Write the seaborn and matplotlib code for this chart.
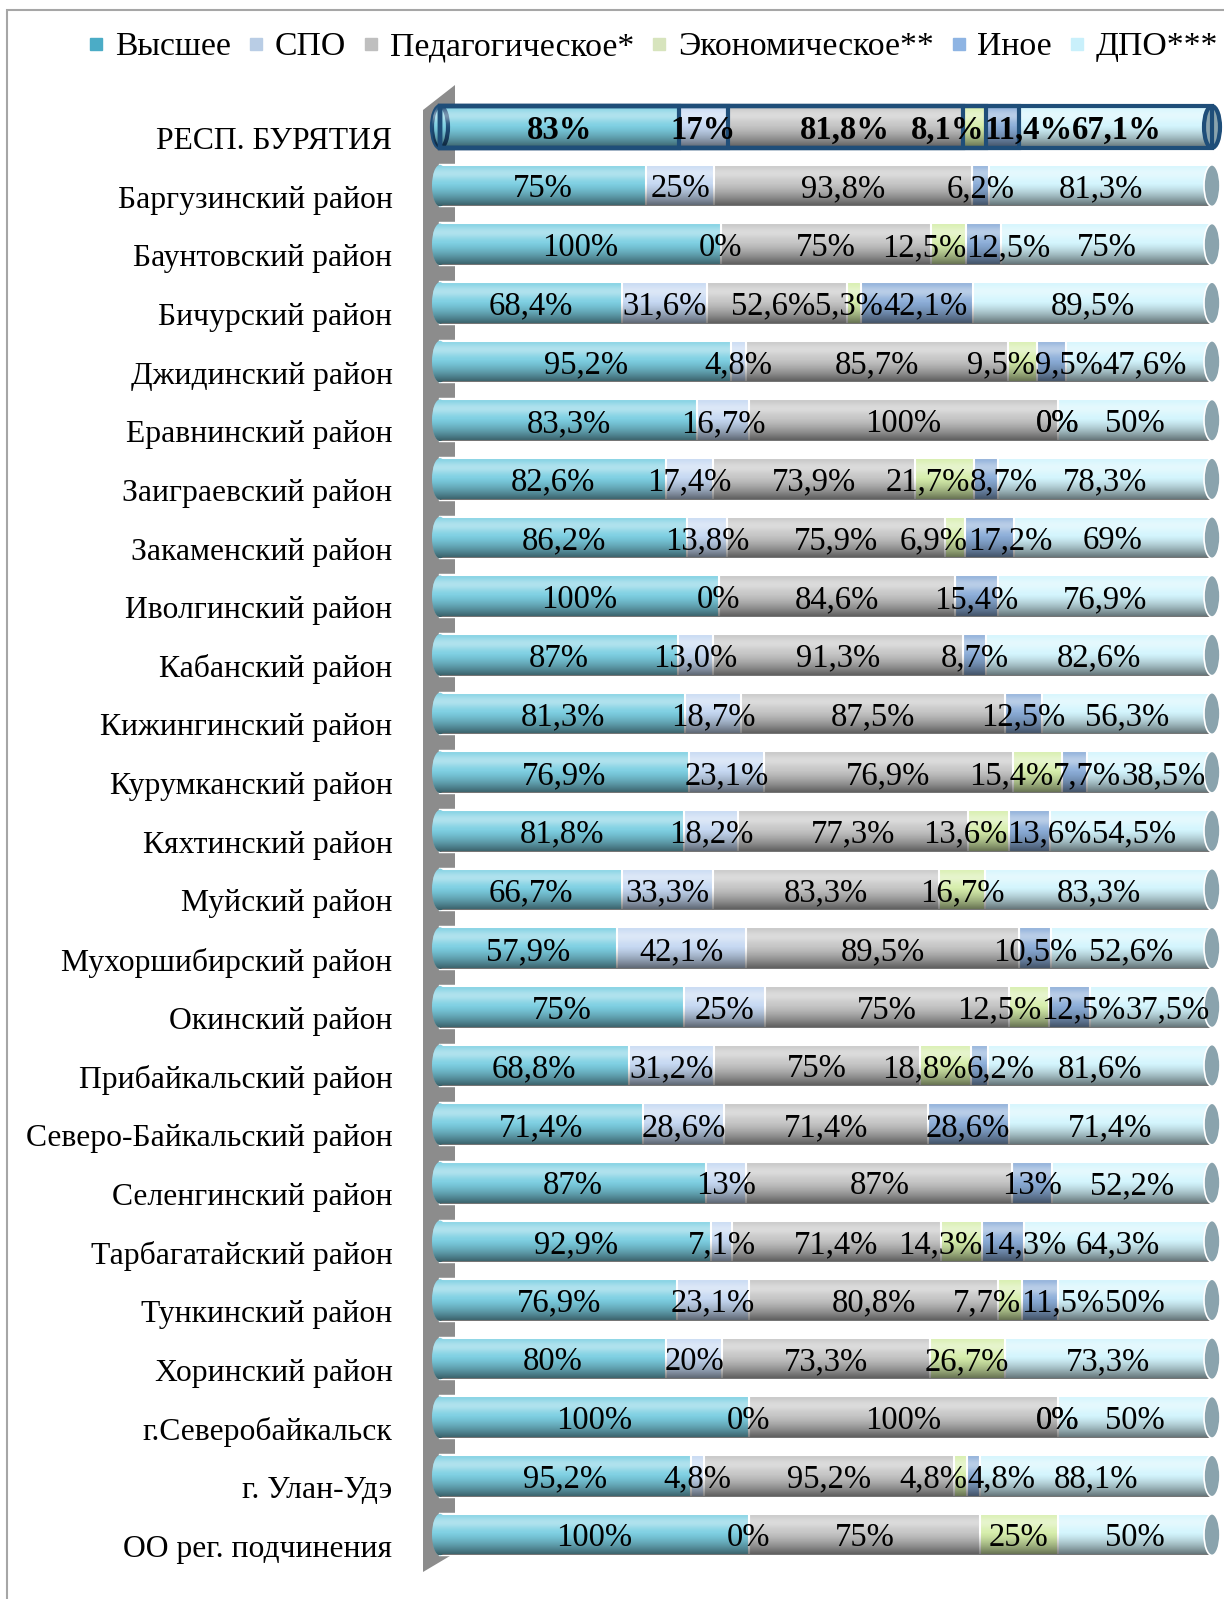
import matplotlib
matplotlib.use("Agg")
import matplotlib.pyplot as plt
import matplotlib.transforms as mtransforms
from matplotlib.patches import Ellipse, Polygon, Rectangle
from matplotlib.lines import Line2D
import numpy as np
import pandas as pd
import seaborn as sns

# данные
regions = ["РЕСП. БУРЯТИЯ", "Баргузинский район", "Баунтовский район", "Бичурский район",
           "Джидинский район", "Еравнинский район", "Заиграевский район", "Закаменский район",
           "Иволгинский район", "Кабанский район", "Кижингинский район", "Курумканский район",
           "Кяхтинский район", "Муйский район", "Мухоршибирский район", "Окинский район",
           "Прибайкальский район", "Северо-Байкальский район", "Селенгинский район",
           "Тарбагатайский район", "Тункинский район", "Хоринский район", "г.Северобайкальск",
           "г. Улан-Удэ", "ОО рег. подчинения"]
categories = ["Высшее", "СПО", "Педагогическое*", "Экономическое**", "Иное", "ДПО***"]

vysshee = [83, 75, 100, 68.4, 95.2, 83.3, 82.6, 86.2, 100, 87, 81.3, 76.9, 81.8, 66.7, 57.9,
           75, 68.8, 71.4, 87, 92.9, 76.9, 80, 100, 95.2, 100]
spo = [17, 25, 0, 31.6, 4.8, 16.7, 17.4, 13.8, 0, 13.0, 18.7, 23.1, 18.2, 33.3, 42.1,
       25, 31.2, 28.6, 13, 7.1, 23.1, 20, 0, 4.8, 0]
pedag = [81.8, 93.8, 75, 52.6, 85.7, 100, 73.9, 75.9, 84.6, 91.3, 87.5, 76.9, 77.3, 83.3, 89.5,
         75, 75, 71.4, 87, 71.4, 80.8, 73.3, 100, 95.2, 75]
econ = [8.1, None, 12.5, 5.3, 9.5, 0, 21.7, 6.9, None, None, None, 15.4, 13.6, 16.7, None,
        12.5, 18.8, None, None, 14.3, 7.7, 26.7, 0, 4.8, 25]
inoe = [11.4, 6.2, 12.5, 42.1, 9.5, 0, 8.7, 17.2, 15.4, 8.7, 12.5, 7.7, 13.6, None, 10.5,
        12.5, 6.2, 28.6, 13, 14.3, 11.5, None, 0, 4.8, None]
dpo = [67.1, 81.3, 75, 89.5, 47.6, 50, 78.3, 69, 76.9, 82.6, 56.3, 38.5, 54.5, 83.3, 52.6,
       37.5, 81.6, 71.4, 52.2, 64.3, 50, 73.3, 50, 88.1, 50]
series = [vysshee, spo, pedag, econ, inoe, dpo]
label_override = {("Кабанский район", "СПО"): "13,0%"}

bar_colors = ["#7ccfe2", "#c5d8f2", "#c4c4c4", "#d6eeab", "#8badd8", "#d3f5fd"]
legend_colors = ["#4bacc6", "#b9cde5", "#bfbfbf", "#d7e4bd", "#8eb4e3", "#c9f0fb"]

rows = []
for cat, vals in zip(categories, series):
    for reg, v in zip(regions, vals):
        rows.append({"region": reg, "category": cat, "value": v})
df = pd.DataFrame(rows)
df["value"] = df["value"].astype(float)
df["category"] = pd.Categorical(df["category"], categories, ordered=True)
df["region"] = pd.Categorical(df["region"], regions, ordered=True)
df = df.sort_values(["region", "category"])
tot = df.groupby("region", observed=True)["value"].transform(lambda s: s.fillna(0).sum())
df["share"] = df["value"].fillna(0) / tot
df["cum"] = df.groupby("region", observed=True)["share"].cumsum()

plt.rcParams["font.family"] = ["Liberation Serif", "DejaVu Serif"]

W, H = 1224, 1599
fig = plt.figure(figsize=(W / 100, H / 100), dpi=100)
# пиксельная разметка области графика
ax_l, ax_r, ax_t, ax_b = 423, 1224, 80, 1580
x0_px, x1_px = 440, 1212
row0_px, step_px = 127, 58.65
ax = fig.add_axes([ax_l / W, 1 - ax_b / H, (ax_r - ax_l) / W, (ax_b - ax_t) / H])
sc = x1_px - x0_px
xlim = ((ax_l - x0_px) / sc, (ax_r - x0_px) / sc)
ylim = ((ax_b - row0_px) / step_px, (ax_t - row0_px) / step_px)
capw = 16 / sc

bw = 0.71
for cat, col in reversed(list(zip(categories, bar_colors))):
    sub = df[df["category"] == cat]
    sns.barplot(data=sub, x="cum", y="region", order=regions, orient="h", color=col,
                saturation=1, width=bw, edgecolor="white", linewidth=1.5,
                errorbar=None, ax=ax)

# объемный эффект
t = np.linspace(0, 1, 80)
wa = 0.40 * np.exp(-((t - 0.22) / 0.16) ** 2)
ba = 0.55 * np.clip((t - 0.45) / 0.55, 0, 1) ** 1.4
white = np.ones((80, 1, 4)); white[:, 0, 3] = wa
black = np.zeros((80, 1, 4)); black[:, 0, 3] = ba
n = len(regions)
for i in range(n):
    first = i == 0
    ecol = "#1f4e79" if first else "white"
    elw = 3 if first else 1.2
    left = Ellipse((0, i), capw, bw, fc=bar_colors[0], ec="#1f4e79" if first else "none",
                   lw=elw, zorder=2.5)
    ax.add_patch(left)
    for g in (white, black):
        ax.imshow(g, extent=[0, 1, i + bw / 2, i - bw / 2], aspect="auto",
                  interpolation="bilinear", zorder=3)
        im = ax.imshow(g, extent=[-capw / 2, 0, i + bw / 2, i - bw / 2], aspect="auto",
                       interpolation="bilinear", zorder=2.6)
        im.set_clip_path(left)
    ax.add_patch(Ellipse((1, i), capw, bw, fc="#8aa3ad", ec=ecol, lw=elw, zorder=4))

# выделение строки республики
for p in list(ax.patches):
    if isinstance(p, Rectangle) and abs(p.get_y() + p.get_height() / 2) < 0.01:
        ax.add_patch(Rectangle(p.get_xy(), p.get_width(), p.get_height(), fill=False,
                               ec="#1f4e79", lw=3, zorder=5))

# стенка
wx0, wx1 = (423 - x0_px) / sc, (455 - x0_px) / sc
wall = Polygon([(wx0, (110 - row0_px) / step_px), (wx1, (85 - row0_px) / step_px),
                (wx1, (1553 - row0_px) / step_px), (wx0, (1572 - row0_px) / step_px)],
               closed=True, fc="#8c8c8c", ec="none", zorder=0.5)
ax.add_patch(wall)

ax.set_xlim(*xlim)
ax.set_ylim(*ylim)

# подписи
labels = {i: [] for i in range(n)}
for _, r in df.iterrows():
    if np.isnan(r["value"]):
        continue
    key = (r["region"], r["category"])
    lab = label_override.get(key, f"{r['value']:.1f}".rstrip("0").rstrip(".").replace(".", ",") + "%")
    i = regions.index(r["region"])
    x = r["cum"] - r["share"] / 2
    txt = ax.text(x, i, lab, ha="center", va="center_baseline", fontsize=23.5,
                  fontweight="bold" if i == 0 else "normal", zorder=6)
    labels[i].append([x, lab, txt])

# разведение наложенных подписей
fig.canvas.draw()
rend = fig.canvas.get_renderer()
for i in range(n):
    groups = []
    for x, lab, txt in labels[i]:
        if groups and abs(groups[-1][0] - x) < 1e-9 and groups[-1][1] == lab:
            groups[-1][2].append(txt)
            continue
        bb = txt.get_window_extent(rend)
        groups.append([x, lab, [txt], bb.width / ax.bbox.width * (xlim[1] - xlim[0])])
    pos = [g[0] for g in groups]
    for _ in range(200):
        for k in range(len(groups) - 1):
            ov = (pos[k] + groups[k][3] / 2) - (pos[k + 1] - groups[k + 1][3] / 2)
            if ov > 0:
                pos[k] -= ov / 2
                pos[k + 1] += ov / 2
    for g, p in zip(groups, pos):
        for txt in g[2]:
            txt.set_x(p)

ax.set_xlabel("")
ax.set_ylabel("")
ax.set_xticks([])
for s in ax.spines.values():
    s.set_visible(False)
ax.tick_params(axis="y", length=0, pad=22, labelsize=22.8)
off = mtransforms.ScaledTranslation(0, -11 / 100, fig.dpi_scale_trans)
for lbl in ax.get_yticklabels():
    lbl.set_transform(lbl.get_transform() + off)

handles = [Line2D([], [], marker="s", ls="", color=c, markersize=8.5) for c in legend_colors]
fig.legend(handles, categories, loc="center", bbox_to_anchor=(653 / W, 1 - 47 / H), ncol=6,
           frameon=False, fontsize=24.3, handlelength=0.5, handletextpad=0.3,
           columnspacing=0.5, borderpad=0)

fig.add_artist(Rectangle((7 / W, -0.05), 1.2, 1.05 - 10 / H, transform=fig.transFigure,
                         fill=False, ec="#a6a6a6", lw=1.5))

fig.savefig("out.png", dpi=100)
